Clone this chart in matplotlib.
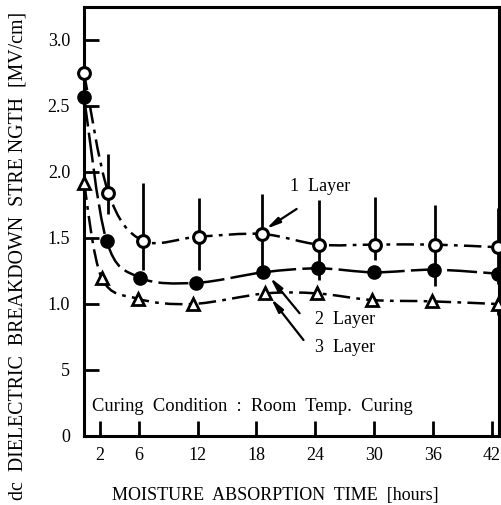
import numpy as np
import matplotlib
matplotlib.use("Agg")
import matplotlib.pyplot as plt
from matplotlib.path import Path
from matplotlib.patches import PathPatch

plt.rcParams['font.family'] = ['Liberation Serif', 'DejaVu Serif']

# values
hours_1 = [0.4, 2.9, 6.4, 12.1, 18.6, 24.4, 30.1, 36.2, 42.6]
layer1 = [2.75, 1.84, 1.48, 1.51, 1.53, 1.45, 1.45, 1.45, 1.43]
layer1_hi = [2.75, 2.14, 1.92, 1.80, 1.83, 1.79, 1.81, 1.75, 1.73]
layer1_lo = [2.75, 1.68, 1.26, 1.26, 1.28, 1.18, 1.33, 1.14, 1.15]

hours_2 = [0.4, 2.7, 6.1, 11.8, 18.7, 24.3, 30.0, 36.1, 42.6]
layer2 = [2.57, 1.48, 1.20, 1.16, 1.24, 1.27, 1.24, 1.26, 1.23]

hours_3 = [0.4, 2.2, 5.9, 11.5, 18.9, 24.2, 29.8, 35.9, 42.6]
layer3 = [1.92, 1.20, 1.04, 1.00, 1.08, 1.08, 1.03, 1.02, 1.00]

x_ticks = [2, 6, 12, 18, 24, 30, 36, 42]
y_ticks = [0, 0.5, 1.0, 1.5, 2.0, 2.5, 3.0]
y_tick_labels = ['0', '5', '1.0', '1.5', '2.0', '2.5', '3.0']


def smooth_path(xs, ys):
    # Catmull-Rom style bezier through the points (drawing only)
    pts = np.column_stack([xs, ys])
    verts = [pts[0]]
    codes = [Path.MOVETO]
    n = len(pts)
    for i in range(n - 1):
        p0 = pts[max(i - 1, 0)]
        p1 = pts[i]
        p2 = pts[i + 1]
        p3 = pts[min(i + 2, n - 1)]
        c1 = p1 + (p2 - p0) / 6.0
        c2 = p2 - (p3 - p1) / 6.0
        verts += [c1, c2, p2]
        codes += [Path.CURVE4] * 3
    return Path(verts, codes)


fig = plt.figure(figsize=(5.02, 5.05), dpi=100)
ax = fig.add_axes([84 / 502, 69 / 505, 415 / 502, 429 / 505])

dashdot = (0, (7, 2.5, 1.5, 2.5))
longdash = (0, (12, 2.5))

for xs, ys, ls in [(hours_1, layer1, dashdot),
                   (hours_2, layer2, longdash),
                   (hours_3, layer3, dashdot)]:
    patch = PathPatch(smooth_path(xs, ys), facecolor='none', edgecolor='black',
                      lw=1.8, linestyle=ls, clip_on=False)
    ax.add_patch(patch)

# error bars of the 1 layer series
ax.vlines(hours_1[1:], layer1_lo[1:], layer1_hi[1:], color='black', lw=2.0, clip_on=False)
ax.vlines([hours_3[-1]], [0.92], [layer3[-1]], color='black', lw=2.0, clip_on=False)

ax.plot(hours_1, layer1, 'o', ms=8.5, mfc='white', mec='black', mew=2.2, clip_on=False, zorder=5)
ax.plot(hours_2, layer2, 'o', ms=9.5, mfc='black', mec='black', clip_on=False, zorder=5)
ax.plot(hours_3, layer3, '^', ms=8, mfc='white', mec='black', mew=2.0, clip_on=False, zorder=5)

arrow = dict(arrowstyle='-|>,head_length=0.8,head_width=0.18', color='black', lw=1.6,
             shrinkA=0, shrinkB=0)
ax.annotate('', xy=(19.0, 1.57), xytext=(22.1, 1.72), arrowprops=arrow)
ax.annotate('', xy=(19.4, 1.20), xytext=(22.4, 0.93), arrowprops=arrow)
ax.annotate('', xy=(19.5, 1.04), xytext=(22.8, 0.727), arrowprops=arrow)

ax.text(24.5, 1.89, '1  Layer', fontsize=13, ha='center', va='center')
ax.text(27.0, 0.886, '2  Layer', fontsize=13, ha='center', va='center')
ax.text(27.0, 0.674, '3  Layer', fontsize=13, ha='center', va='center')
ax.text(1.2, 0.22, 'Curing  Condition  :  Room  Temp.  Curing', fontsize=13.3,
        ha='left', va='center')

ax.set_xlim(0.4, 42.75)
ax.set_ylim(0, 3.25)
ax.set_xticks(x_ticks)
ax.set_yticks(y_ticks)
ax.set_yticklabels(y_tick_labels)
ax.tick_params(direction='in', length=11, width=2, labelsize=13)
ax.tick_params(axis='y', pad=10)
ax.tick_params(axis='x', pad=8)
for s in ax.spines.values():
    s.set_linewidth(2.2)

ax.set_ylabel('dc  DIELECTRIC  BREAKDOWN  STRE NGTH  [MV/cm]', fontsize=14.3)
ax.yaxis.set_label_coords(-0.137, 0.42)
ax.set_xlabel('MOISTURE  ABSORPTION  TIME  [hours]', fontsize=13)
ax.xaxis.set_label_coords(0.46, -0.119)

fig.savefig('out.png', dpi=100)
